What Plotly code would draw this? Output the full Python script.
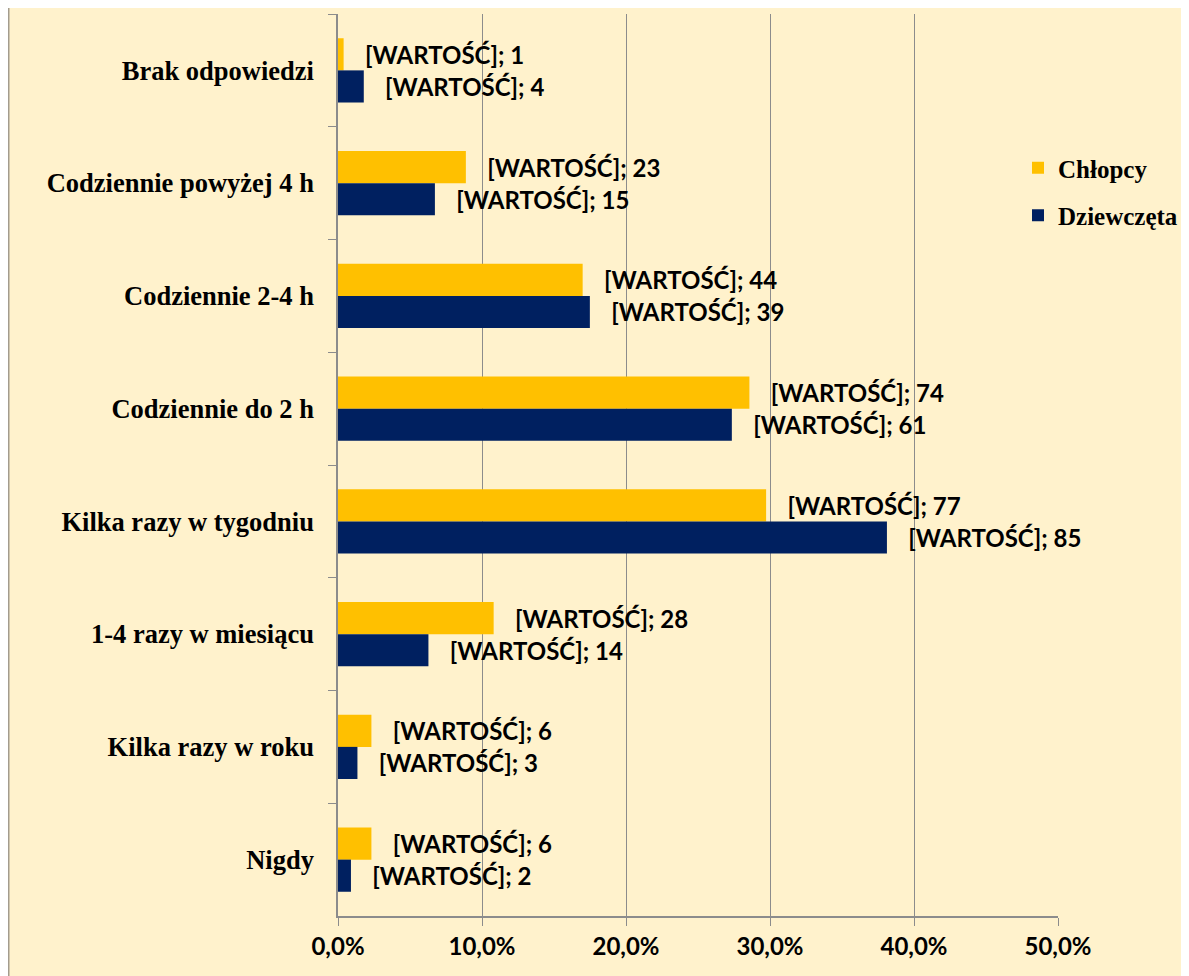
import plotly.graph_objects as go

categories = ["Brak odpowiedzi", "Codziennie powyżej 4 h", "Codziennie 2-4 h",
              "Codziennie do 2 h", "Kilka razy w tygodniu", "1-4 razy w miesiącu",
              "Kilka razy w roku", "Nigdy"]
chlopcy_pct = [0.0039, 0.0888, 0.1699, 0.2857, 0.2973, 0.1081, 0.0232, 0.0232]
dziewczeta_pct = [0.0179, 0.0673, 0.1749, 0.2735, 0.3812, 0.0628, 0.0135, 0.0090]
chlopcy_n = [1, 23, 44, 74, 77, 28, 6, 6]
dziewczeta_n = [4, 15, 39, 61, 85, 14, 3, 2]
x_ticks = [0, 0.1, 0.2, 0.3, 0.4, 0.5]

# page body has an 8px margin, so figure is offset by 8px on screen
OFF = 8
W, H = 1189 - OFF, 976 - OFF
L, R, T, B = 338 - OFF, 131, 14 - OFF, 60
pw, ph = W - L - R, H - T - B

def px2x(p):  # p in screen pixels
    return (p - OFF - L) / pw

def py2y(p):
    return (H - B - (p - OFF)) / ph

pad = "\u00a0\u00a0\u202f"
label_font = dict(family="Lato", size=24, color="#000000")

fig = go.Figure()
fig.add_trace(go.Bar(
    y=categories, x=chlopcy_pct, orientation="h", name="Chłopcy",
    marker=dict(color="#FFC000", line=dict(width=0)),
    text=[f"{pad}<b>[WARTOŚĆ]; {n}</b>" for n in chlopcy_n],
    textposition="outside", textfont=label_font, cliponaxis=False,
    legendgroup="a", hoverinfo="skip",
))
fig.add_trace(go.Bar(
    y=categories, x=dziewczeta_pct, orientation="h", name="Dziewczęta",
    marker=dict(color="#002060", line=dict(width=0)),
    text=[f"{pad}<b>[WARTOŚĆ]; {n}</b>" for n in dziewczeta_n],
    textposition="outside", textfont=label_font, cliponaxis=False,
    legendgroup="b", hoverinfo="skip",
))

fig.update_layout(
    width=W, height=H,
    margin=dict(l=L, r=R, t=T, b=B, autoexpand=False),
    paper_bgcolor="#FFF2CC", plot_bgcolor="#FFF2CC",
    barmode="group", bargap=0.43, bargroupgap=0,
    separators=",.",
    showlegend=True,
    legend=dict(
        x=px2x(1018), xanchor="left", y=py2y(145), yanchor="top",
        traceorder="grouped", tracegroupgap=12,
        font=dict(family="Liberation Serif", size=25, color="#000000", weight="bold"),
        bgcolor="rgba(0,0,0,0)", itemwidth=30,
    ),
    xaxis=dict(
        range=[0, 0.5], tickvals=x_ticks, tickformat=".1%",
        showgrid=True, gridcolor="#8C8C8C", gridwidth=1,
        showline=True, linecolor="#8C8C8C", linewidth=1.5,
        ticks="outside", ticklen=8, tickcolor="#8C8C8C",
        tickfont=dict(family="Lato", size=24, color="#000000", weight="bold"),
        zeroline=False, fixedrange=True,
    ),
    yaxis=dict(
        autorange="reversed", type="category",
        showline=True, linecolor="#8C8C8C", linewidth=1.5,
        ticks="outside", ticklen=8, tickcolor="#8C8C8C", tickson="boundaries",
        tickfont=dict(family="Liberation Serif", size=26.5, color="#000000", weight="bold"),
        ticklabelstandoff=17, showgrid=False, fixedrange=True,
    ),
    shapes=[
        dict(type="line", xref="paper", yref="paper",
             x0=px2x(8.75), x1=px2x(8.75), y0=py2y(976 + 10), y1=py2y(0),
             line=dict(color="#A39C8E", width=1.5)),
    ],
)

fig.write_html("out.html")
